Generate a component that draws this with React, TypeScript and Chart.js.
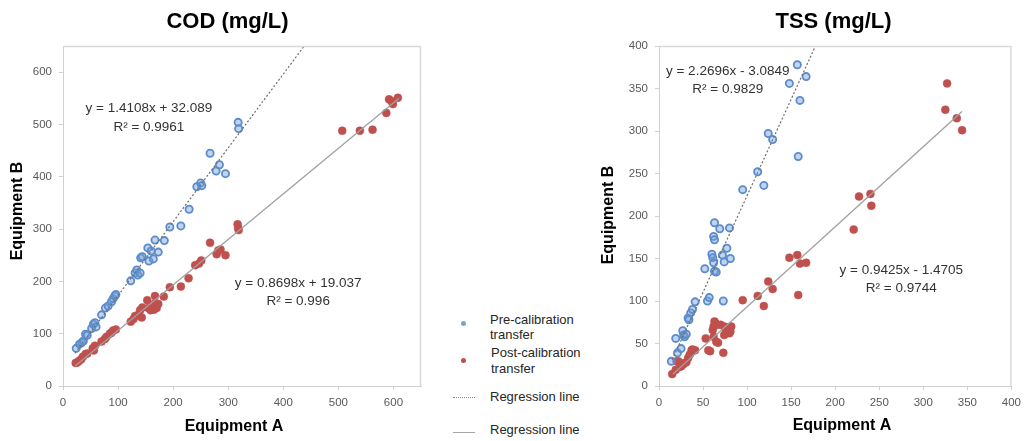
import React, { useEffect, useRef } from "react";
import { Chart, registerables } from "chart.js";

Chart.register(...registerables);

const FONT = '"Liberation Sans", Arial, sans-serif';

// ---------- COD (mg/L): [Equipment A, Equipment B] ----------
const codPre: [number, number][] = [
  [24, 72], [30, 80], [34, 83], [37, 86], [41, 99], [44, 97], [52, 110], [55, 118], [58, 121], [60, 113],
  [70, 136], [77, 149], [82, 153], [88, 161], [91, 167], [94, 172], [96, 175], [123, 201], [131, 216],
  [134, 222], [136, 212], [140, 216], [141, 245], [144, 247], [154, 264], [156, 239], [160, 258], [164, 243],
  [167, 279], [173, 256], [184, 278], [194, 304], [214, 306], [229, 338], [243, 381], [250, 388], [252, 383],
  [267, 445], [278, 411], [284, 423], [295, 406], [318, 504], [319, 492],
];
const codPost: [number, number][] = [
  [23, 44], [26, 45], [29, 48], [33, 51], [36, 56], [41, 61], [44, 62], [54, 72], [56, 68], [58, 77],
  [70, 85], [76, 90], [79, 94], [85, 100], [88, 102], [91, 106], [96, 108], [123, 123], [128, 128],
  [131, 134], [137, 136], [140, 145], [143, 131], [144, 150], [153, 164], [155, 149], [159, 145], [162, 152],
  [165, 146], [167, 172], [167, 158], [170, 149], [173, 157], [183, 171], [194, 189], [214, 190], [228, 206],
  [240, 231], [247, 234], [251, 240], [267, 274], [279, 252], [282, 259], [286, 261], [295, 250], [317, 309],
  [318, 302], [319, 298], [507, 488], [539, 488], [562, 490], [587, 522], [592, 548], [596, 545], [599, 539],
  [608, 551],
];
const codPreFit: [number, number][] = [[22, 63], [438, 650]];
const codPostFit: [number, number][] = [[22, 38], [610, 550]];
const codEquations = ["y = 1.4108x + 32.089", "R² = 0.9961", "y = 0.8698x + 19.037", "R² = 0.996"];

// ---------- TSS (mg/L): [Equipment A, Equipment B] ----------
const tssPre: [number, number][] = [
  [14, 29], [19, 56], [21, 39], [25, 44], [27, 65], [28, 60], [29, 58], [31, 61], [33, 80], [34, 78],
  [36, 86], [38, 90], [41, 99], [52, 138], [55, 100], [57, 104], [60, 155], [61, 151], [62, 145], [62, 176],
  [63, 172], [63, 192], [63, 135], [65, 134], [69, 185], [72, 154], [73, 100], [74, 146], [77, 162], [80, 186],
  [81, 150], [95, 231], [112, 252], [119, 236], [124, 297], [129, 290], [148, 356], [157, 378], [158, 270],
  [160, 336], [167, 364],
];
const tssPost: [number, number][] = [
  [15, 14], [19, 19], [20, 29], [22, 29], [24, 23], [25, 23], [27, 25], [29, 27], [31, 28], [33, 33],
  [35, 37], [37, 42], [38, 43], [41, 42], [53, 56], [56, 42], [58, 41], [61, 66], [62, 58], [62, 70],
  [63, 76], [64, 74], [65, 52], [66, 72], [67, 51], [70, 72], [73, 39], [74, 60], [74, 70], [76, 66],
  [78, 68], [79, 69], [80, 62], [81, 64], [82, 70], [95, 101], [112, 106], [119, 94], [124, 123], [129, 114],
  [148, 151], [157, 154], [158, 107], [160, 144], [167, 145], [221, 184], [227, 223], [240, 226], [241, 212],
  [325, 325], [327, 356], [338, 315], [344, 301],
];
const tssPreFit: [number, number][] = [[15, 31], [177.6, 400]];
const tssPostFit: [number, number][] = [[16, 14], [344, 323]];
const tssEquations = ["y = 2.2696x - 3.0849", "R² = 0.9829", "y = 0.9425x - 1.4705", "R² = 0.9744"];

// axis ticks
const codTickStep = 100;
const codAxisMax = 650;
const tssTickStep = 50;
const tssAxisMax = 400;

const toXY = (arr: [number, number][]) => arr.map(([x, y]) => ({ x, y }));

type PanelSpec = {
  title: string;
  titlePos: [number, number];
  xTitlePos: [number, number];
  yTitlePos: [number, number];
  labels: { text: string; x: number; y: number }[];
};

function makeTextPlugin(spec: PanelSpec) {
  return {
    id: "figureText",
    afterDraw(chart: any) {
      const { ctx, chartArea, scales } = chart;
      ctx.save();
      // frame top & right
      ctx.strokeStyle = "#d9d9d9";
      ctx.lineWidth = 1.5;
      ctx.beginPath();
      ctx.moveTo(chartArea.left, chartArea.top + 0.5);
      ctx.lineTo(chartArea.right - 0.5, chartArea.top + 0.5);
      ctx.lineTo(chartArea.right - 0.5, chartArea.bottom);
      ctx.stroke();

      ctx.textAlign = "center";
      ctx.textBaseline = "middle";
      ctx.fillStyle = "#000";
      ctx.font = `bold 22px ${FONT}`;
      ctx.fillText(spec.title, spec.titlePos[0], spec.titlePos[1]);
      ctx.font = `bold 16px ${FONT}`;
      ctx.fillText("Equipment A", spec.xTitlePos[0], spec.xTitlePos[1]);
      ctx.save();
      ctx.translate(spec.yTitlePos[0], spec.yTitlePos[1]);
      ctx.rotate(-Math.PI / 2);
      ctx.fillText("Equipment B", 0, 0);
      ctx.restore();

      ctx.font = `13.5px ${FONT}`;
      ctx.fillStyle = "#333333";
      for (const l of spec.labels) {
        ctx.fillText(l.text, scales.x.getPixelForValue(l.x), scales.y.getPixelForValue(l.y));
      }
      ctx.restore();
    },
  };
}

function axis(max: number, step: number, pad: number, size: number, isX: boolean) {
  return {
    type: "linear" as const,
    position: isX ? ("bottom" as const) : ("left" as const),
    min: 0,
    max,
    ticks: {
      stepSize: step,
      includeBounds: false,
      padding: pad,
      color: "#595959",
      font: { family: FONT, size: 11.5 },
    },
    grid: { display: true, drawOnChartArea: false, drawTicks: true, tickLength: 4, color: "#d0d0d0" },
    border: { display: true, color: "#d0d0d0", width: 1 },
    afterFit: (s: any) => {
      if (isX) s.height = size;
      else s.width = size;
    },
  };
}

function Panel(props: {
  left: number;
  width: number;
  yAxisWidth: number;
  padRight: number;
  pre: [number, number][];
  post: [number, number][];
  preFit: [number, number][];
  postFit: [number, number][];
  max: number;
  step: number;
  spec: PanelSpec;
}) {
  const ref = useRef<HTMLCanvasElement>(null);
  useEffect(() => {
    const p = props;
    const chart = new Chart(ref.current as HTMLCanvasElement, {
      type: "scatter",
      data: {
        datasets: [
          {
            label: "Regression line (pre)",
            data: toXY(p.preFit),
            showLine: true,
            borderColor: "#6e6e6e",
            borderWidth: 1.2,
            borderDash: [2, 2],
            pointRadius: 0,
          } as any,
          {
            label: "Regression line (post)",
            data: toXY(p.postFit),
            showLine: true,
            borderColor: "#a0a0a0",
            borderWidth: 1.3,
            pointRadius: 0,
          } as any,
          {
            label: "Pre-calibration transfer",
            data: toXY(p.pre),
            pointRadius: 3.6,
            pointBorderWidth: 1.8,
            backgroundColor: "rgba(120,160,215,0.45)",
            borderColor: "#5a8ccc",
          },
          {
            label: "Post-calibration transfer",
            data: toXY(p.post),
            pointRadius: 4,
            pointBorderWidth: 0.5,
            backgroundColor: "#c0504d",
            borderColor: "#c0504d",
          },
        ],
      },
      options: {
        responsive: false,
        animation: false,
        devicePixelRatio: 1,
        layout: { padding: { left: 0, top: 46, right: p.padRight, bottom: 0 } },
        plugins: { legend: { display: false }, tooltip: { enabled: false }, title: { display: false } },
        scales: {
          x: axis(p.max, p.step, 6, 55, true),
          y: axis(p.max, p.step, 7, p.yAxisWidth, false),
        } as any,
      },
      plugins: [makeTextPlugin(p.spec)],
    });
    return () => chart.destroy();
  }, []);
  return (
    <canvas
      ref={ref}
      width={props.width}
      height={441}
      style={{ position: "absolute", left: props.left, top: 0, width: props.width, height: 441 }}
    />
  );
}

const legendText: React.CSSProperties = {
  position: "absolute",
  font: `13px ${FONT}`,
  color: "#262626",
  lineHeight: "15.5px",
  whiteSpace: "nowrap",
};

export default function App() {
  const codSpec: PanelSpec = {
    title: "COD (mg/L)",
    titlePos: [227.5, 22],
    xTitlePos: [234, 427],
    yTitlePos: [17.5, 211],
    labels: [
      { text: codEquations[0], x: 156, y: 531 },
      { text: codEquations[1], x: 156, y: 495 },
      { text: codEquations[2], x: 427, y: 197 },
      { text: codEquations[3], x: 427, y: 162 },
    ],
  };
  const tssSpec: PanelSpec = {
    title: "TSS (mg/L)",
    titlePos: [243.5, 22],
    xTitlePos: [252, 426],
    yTitlePos: [19, 215],
    labels: [
      { text: tssEquations[0], x: 78, y: 370 },
      { text: tssEquations[1], x: 78, y: 349 },
      { text: tssEquations[2], x: 275, y: 136 },
      { text: tssEquations[3], x: 275, y: 115 },
    ],
  };
  return (
    <div style={{ position: "absolute", left: 0, top: 0, width: 1027, height: 441, background: "#fff", overflow: "hidden" }}>
      <Panel
        left={0}
        width={440}
        yAxisWidth={63}
        padRight={19}
        pre={codPre}
        post={codPost}
        preFit={codPreFit}
        postFit={codPostFit}
        max={codAxisMax}
        step={codTickStep}
        spec={codSpec}
      />
      <Panel
        left={590}
        width={437}
        yAxisWidth={69}
        padRight={10}
        pre={tssPre}
        post={tssPost}
        preFit={tssPreFit}
        postFit={tssPostFit}
        max={tssAxisMax}
        step={tssTickStep}
        spec={tssSpec}
      />
      {/* legend */}
      <div style={{ position: "absolute", left: 460.5, top: 320.5, width: 5, height: 5, borderRadius: "50%", background: "#7aa3d8" }} />
      <div style={{ ...legendText, left: 490, top: 311.5 }}>Pre-calibration<br />transfer</div>
      <div style={{ position: "absolute", left: 460.5, top: 357.5, width: 5, height: 5, borderRadius: "50%", background: "#c0504d" }} />
      <div style={{ ...legendText, left: 491, top: 345 }}>Post-calibration<br />transfer</div>
      <div style={{ position: "absolute", left: 453, top: 397, width: 22, height: 0, borderTop: "1px dotted #8a8a8a" }} />
      <div style={{ ...legendText, left: 490, top: 389 }}>Regression line</div>
      <div style={{ position: "absolute", left: 453, top: 432, width: 22, height: 0, borderTop: "1.5px solid #a6a6a6" }} />
      <div style={{ ...legendText, left: 490, top: 422 }}>Regression line</div>
    </div>
  );
}
